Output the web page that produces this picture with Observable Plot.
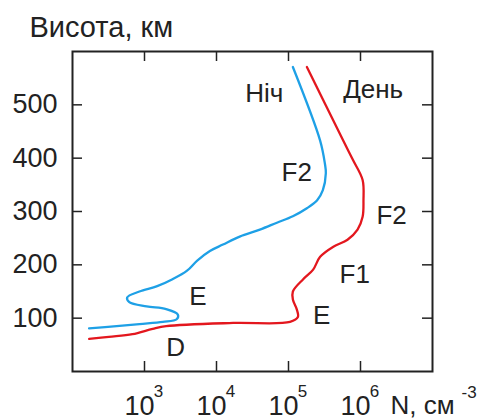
<!DOCTYPE html>
<html>
<head>
<meta charset="utf-8">
<script src="https://cdn.jsdelivr.net/npm/d3@7"></script>
<script src="https://cdn.jsdelivr.net/npm/@observablehq/plot@0.6"></script>
<style>
  html, body { margin: 0; padding: 0; background: #fff; }
  #chart svg { display: block; }
</style>
</head>
<body>
<div id="chart"></div>
<script>
// Night (Ніч) profile: electron density N (cm^-3) vs altitude (km)
const nightN = [1.15e5, 2.75e5, 3.2e5, 3.3e5, 3.0e5, 2.5e5, 1.8e5, 1.15e5, 6.9e4, 4.0e4, 2.1e4, 1.23e4, 8.1e3, 5.4e3, 3.9e3, 2.45e3, 1.5e3, 850, 575, 615, 1.07e3, 2.0e3, 2.9e3, 2.8e3, 1.8e3, 850, 410, 170];
const nightH = [571, 433, 390, 372, 340, 321, 306, 291, 279, 266, 253, 238, 226, 208, 189, 173, 160, 150, 139, 130, 122, 117, 107, 98, 93, 89, 85, 81];
// Day (День) profile
const dayN = [1.8e5, 5.75e5, 7.9e5, 1.07e6, 1.1e6, 1.07e6, 9.1e5, 6.6e5, 4.2e5, 2.75e5, 2.2e5, 1.6e5, 1.15e5, 1.15e5, 1.3e5, 1.35e5, 1.05e5, 1.7e4, 2.0e3, 1.3e3, 680, 320, 170];
const dayH = [571, 433, 396, 359, 321, 290, 266, 247, 234, 215, 191, 173, 150, 135, 117, 102, 93, 91, 85, 80, 70, 65, 61];

// Annotations
const labelText = ["Ніч", "День", "F2", "F2", "F1", "E", "E", "D"];
const labelN = [4.6e4, 1.5e6, 1.3e5, 2.7e6, 8.3e5, 5.5e3, 2.9e5, 2.7e3];
const labelH = [520, 528, 373, 293, 182, 141, 104, 44];

// Ticks
const xTicks = [1e3, 1e4, 1e5, 1e6];
const xTickExp = ["3", "4", "5", "6"];
const yTicks = [100, 200, 300, 400, 500];

const night = nightN.map((n, i) => ({n, h: nightH[i]}));
const day = dayN.map((n, i) => ({n, h: dayH[i]}));
const labels = labelText.map((t, i) => ({t, n: labelN[i], h: labelH[i]}));

const W = 484, H = 419;
const mL = 72, mR = 52, mT = 51, mB = 48;
const fw = W - mL - mR, fh = H - mT - mB;
const font = "'Liberation Sans', Arial, sans-serif";

const chart = Plot.plot({
  width: W,
  height: H,
  marginLeft: mL,
  marginRight: mR,
  marginTop: mT,
  marginBottom: mB,
  style: {fontFamily: font, color: "#222", background: "#fff", overflow: "visible"},
  x: {type: "log", domain: [100, 1e7], axis: null},
  y: {domain: [0, 600], axis: null},
  marks: [
    // inward ticks
    Plot.tickY(yTicks, {y: d => d, insetRight: fw - 10, stroke: "#222", strokeWidth: 1.5}),
    Plot.tickY(yTicks, {y: d => d, insetLeft: fw - 10, stroke: "#222", strokeWidth: 1.5}),
    Plot.tickX(xTicks, {x: d => d, insetTop: fh - 10, stroke: "#222", strokeWidth: 1.5}),
    Plot.tickX(xTicks, {x: d => d, insetBottom: fh - 10, stroke: "#222", strokeWidth: 1.5}),
    Plot.frame({stroke: "#222", strokeWidth: 2}),
    // y tick labels
    Plot.axisY(yTicks, {tickSize: 0, tickPadding: 15, fontSize: 27, label: null, tickFormat: d => String(d)}),
    // x tick labels 10^k
    Plot.text(xTicks, {x: d => d, frameAnchor: "bottom", text: () => "10", dx: -5, dy: 43, lineAnchor: "bottom", fontSize: 27, fill: "#222"}),
    Plot.text(xTicks, {x: d => d, frameAnchor: "bottom", text: (d, i) => xTickExp[i], dx: 14, dy: 25, lineAnchor: "bottom", fontSize: 17, fill: "#222"}),
    // axis titles
    Plot.text(["Висота, км"], {frameAnchor: "top-left", text: d => d, dx: -43, dy: -15, textAnchor: "start", lineAnchor: "bottom", fontSize: 29, fill: "#222"}),
    Plot.text(["N, см"], {frameAnchor: "bottom-right", text: d => d, dx: -42, dy: 42, textAnchor: "start", lineAnchor: "bottom", fontSize: 26, fill: "#222"}),
    Plot.text(["-3"], {frameAnchor: "bottom-right", text: d => d, dx: 29, dy: 26, textAnchor: "start", lineAnchor: "bottom", fontSize: 17, fill: "#222"}),
    // profiles
    Plot.line(night, {x: "n", y: "h", stroke: "#1ea0e6", strokeWidth: 2.3, curve: "catmull-rom"}),
    Plot.line(day, {x: "n", y: "h", stroke: "#e3171e", strokeWidth: 2.3, curve: "catmull-rom"}),
    // annotations
    Plot.text(labels, {x: "n", y: "h", text: "t", fontSize: 26, fill: "#222"})
  ]
});
document.getElementById("chart").appendChild(chart);
</script>
</body>
</html>
